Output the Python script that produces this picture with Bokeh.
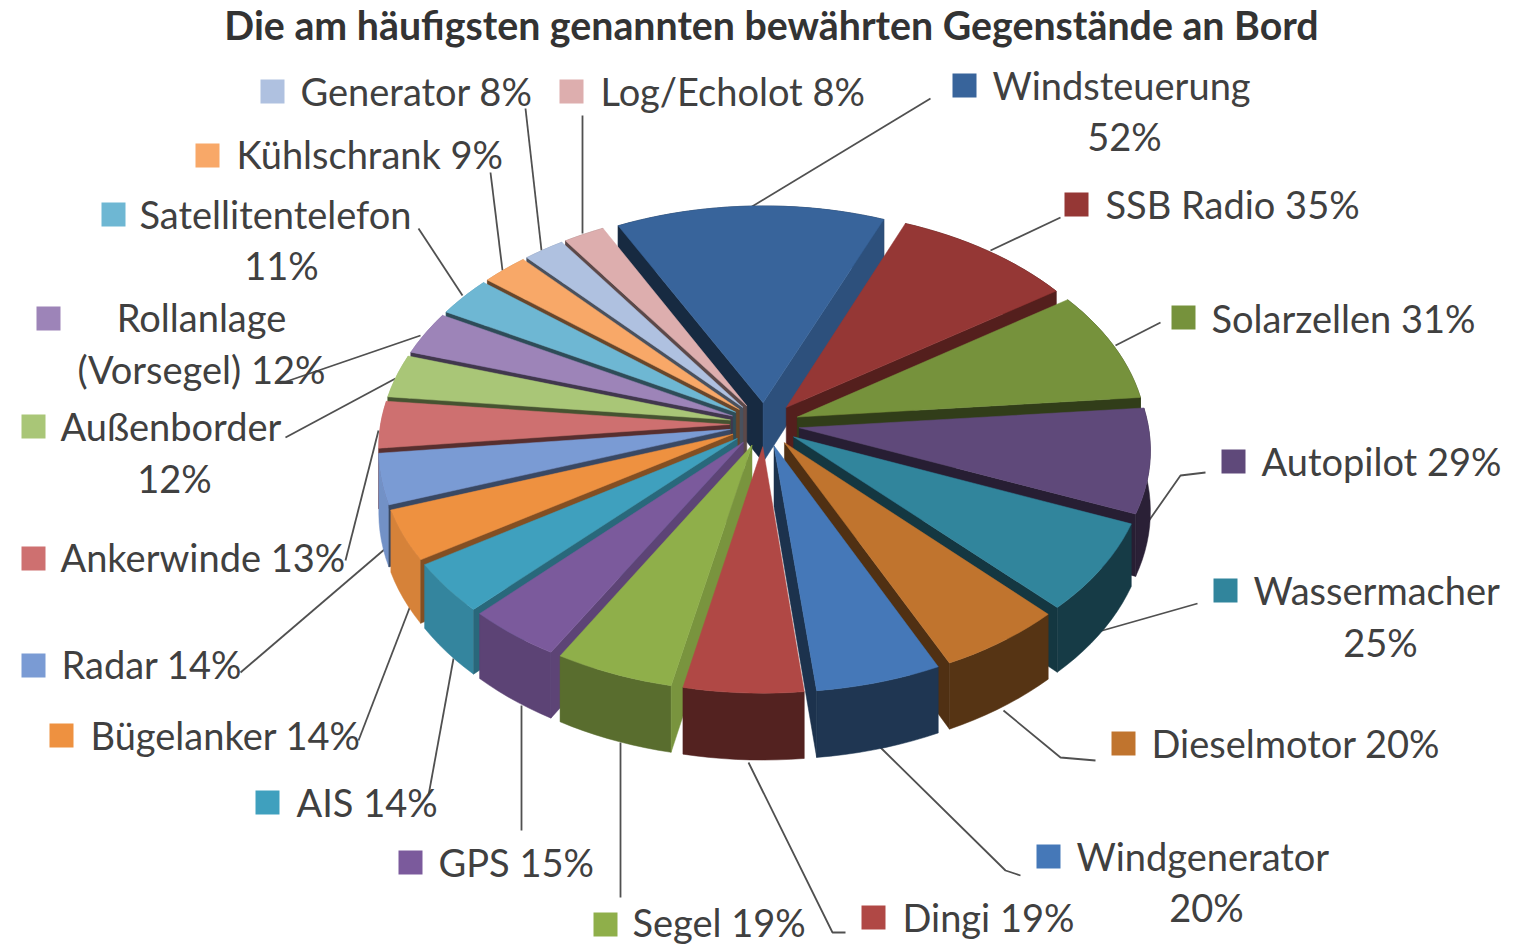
import math
from bokeh.plotting import figure
from bokeh.models import Range1d
from bokeh.core.properties import value
from bokeh.embed import file_html
from bokeh.resources import INLINE

title = "Die am häufigsten genannten bewährten Gegenstände an Bord"
names = ["Windsteuerung", "SSB Radio", "Solarzellen", "Autopilot", "Wassermacher",
         "Dieselmotor", "Windgenerator", "Dingi", "Segel", "GPS", "AIS", "Bügelanker",
         "Radar", "Ankerwinde", "Außenborder", "Rollanlage (Vorsegel)", "Satellitentelefon",
         "Kühlschrank", "Generator", "Log/Echolot"]
values = [52, 35, 31, 29, 25, 20, 20, 19, 19, 15, 14, 14, 14, 13, 12, 12, 11, 9, 8, 8]
colors = ["#38649B", "#953735", "#76923C", "#5F497A", "#31859C", "#C0742E", "#4578B8",
          "#B04845", "#8FAF4A", "#7B5A9C", "#3FA0BE", "#EE9140", "#7A9BD4", "#CE7070",
          "#A9C677", "#9D84B8", "#6EB7D3", "#F8A868", "#AFC1E0", "#DDAEAE"]

# layout of the picture (page pixels)
CX, CY, R, K, PERSP, EXPL, DEPTH = 764.0, 424.0, 349.0, 0.628, 0.0935, 0.10, 60.0
START_DEG = -27.0
label_lines = [
    [("Windsteuerung", 992, 84, "left"), ("52%", 1124, 135, "center")],
    [("SSB Radio 35%", 1105, 203, "left")],
    [("Solarzellen 31%", 1211, 317, "left")],
    [("Autopilot 29%", 1261, 460, "left")],
    [("Wassermacher", 1253, 589, "left"), ("25%", 1380, 641, "center")],
    [("Dieselmotor 20%", 1151, 742, "left")],
    [("Windgenerator", 1076, 855, "left"), ("20%", 1206, 906, "center")],
    [("Dingi 19%", 902, 916, "left")],
    [("Segel 19%", 632, 921, "left")],
    [("GPS 15%", 438, 861, "left")],
    [("AIS 14%", 296, 801, "left")],
    [("Bügelanker 14%", 90, 734, "left")],
    [("Radar 14%", 61, 663, "left")],
    [("Ankerwinde 13%", 60, 556, "left")],
    [("Außenborder", 60, 425, "left"), ("12%", 174, 477, "center")],
    [("Rollanlage", 201, 316, "center"), ("(Vorsegel) 12%", 201, 368, "center")],
    [("Satellitentelefon", 139, 213, "left"), ("11%", 281, 264, "center")],
    [("Kühlschrank 9%", 236, 153, "left")],
    [("Generator 8%", 300, 90, "left")],
    [("Log/Echolot 8%", 600, 90, "left")],
]
swatch_x = [964, 1076, 1183, 1233, 1225, 1123, 1048, 873, 605, 410, 267, 61, 33, 33, 33, 48, 113, 207, 272, 571]
swatch_y = [85, 204, 317, 461, 590, 743, 856, 917, 924, 862, 802, 735, 665, 558, 426, 318, 214, 155, 91, 91]
leaders = [
    [(930, 98), (745, 210)],
    [(1060, 217), (990, 250)],
    [(1160, 322), (1115, 345)],
    [(1205, 472), (1180, 475), (1145, 525)],
    [(1197, 603), (1095, 632)],
    [(1095, 760), (1060, 757), (1003, 710)],
    [(1020, 875), (1005, 870), (880, 747)],
    [(845, 932), (832, 932), (748, 762)],
    [(620, 897), (620, 742)],
    [(521, 830), (521, 705)],
    [(428, 795), (453, 658)],
    [(358, 740), (410, 605)],
    [(240, 672), (385, 548)],
    [(345, 560), (378, 430)],
    [(285, 437), (395, 378)],
    [(280, 383), (420, 335)],
    [(418, 228), (462, 295)],
    [(490, 172), (502, 270)],
    [(525, 108), (541, 250)],
    [(582, 115), (582, 233)],
]


def shade(col, f):
    r, g, b = (int(col[i:i + 2], 16) for i in (1, 3, 5))
    return "#%02X%02X%02X" % (int(r * f), int(g * f), int(b * f))


def project(X, Z, h=0.0):
    s = 1.0 / (1.0 - PERSP * Z)
    return CX + X * R * s, CY + (Z * R * K + h) * s


def wall_visible(apex, tip, inner):
    # a radial wall shows when moving down from its edge leaves the top face
    ex, ey = tip[0] - apex[0], tip[1] - apex[1]
    down = ex * 1.0
    side = ex * (inner[1] - apex[1]) - ey * (inner[0] - apex[0])
    return down * side < 0


p = figure(width=1514, height=945, output_backend="svg", toolbar_location=None,
           x_range=Range1d(0, 1514), y_range=Range1d(945, 0), min_border=0,
           outline_line_color=None, background_fill_color="white")
p.axis.visible = False
p.grid.visible = False

# leaders underneath the pie
for pts in leaders:
    p.line([q[0] for q in pts], [q[1] for q in pts], line_color="#505050", line_width=1.8)

# wedge geometry from the values
total = sum(values)
wedges = []
a = math.radians(START_DEG)
for v, c in zip(values, colors):
    sweep = 2 * math.pi * v / total
    wedges.append((a, a + sweep, c))
    a += sweep
order = sorted(wedges, key=lambda w: -math.cos((w[0] + w[1]) / 2))

for a0, a1, c in order:
    mid = (a0 + a1) / 2
    ox, oz = EXPL * math.sin(mid), -EXPL * math.cos(mid)
    n = max(4, int((a1 - a0) / math.radians(2)))
    rim = [a0 + (a1 - a0) * i / n for i in range(n + 1)]
    apex_t = project(ox, oz)
    apex_b = project(ox, oz, DEPTH)
    top_rim = [project(ox + math.sin(t), oz - math.cos(t)) for t in rim]
    bot_rim = [project(ox + math.sin(t), oz - math.cos(t), DEPTH) for t in rim]
    inner = top_rim[n // 2]

    # outer wall
    f = 0.45 + 0.5 * max(0.0, -math.sin(mid))
    col = shade(c, f)
    pts = top_rim + bot_rim[::-1]
    p.patch([q[0] for q in pts], [q[1] for q in pts], fill_color=col, line_color=col, line_width=0.5)

    # radial walls: start edge faces against the sweep, end edge along it
    for nx, tp, bt in ((-math.cos(a0), top_rim[0], bot_rim[0]),
                       (math.cos(a1), top_rim[-1], bot_rim[-1])):
        if not wall_visible(apex_t, tp, inner):
            continue
        f = 0.42 + 0.45 * max(0.0, nx) ** 2
        col = shade(c, f)
        p.patch([apex_t[0], tp[0], bt[0], apex_b[0]], [apex_t[1], tp[1], bt[1], apex_b[1]],
                fill_color=col, line_color=col, line_width=0.5)

    # top face
    pts = [apex_t] + top_rim
    p.patch([q[0] for q in pts], [q[1] for q in pts], fill_color=c, line_color=c, line_width=0.5)

# legend swatches and labels
p.scatter(swatch_x, swatch_y, marker="square", size=24, fill_color=colors, line_color=None)
for lines in label_lines:
    for txt, x, y, al in lines:
        p.text([x], [y], text=[txt], text_font=value("Lato"), text_font_size="38px",
               text_color="#404040", text_align=al, text_baseline="middle")
p.text([771], [24], text=[title], text_font=value("Lato"), text_font_size="39.3px",
       text_font_style="bold", text_color="#333333", text_align="center", text_baseline="middle")

open("out.html", "w").write(file_html(p, INLINE))
